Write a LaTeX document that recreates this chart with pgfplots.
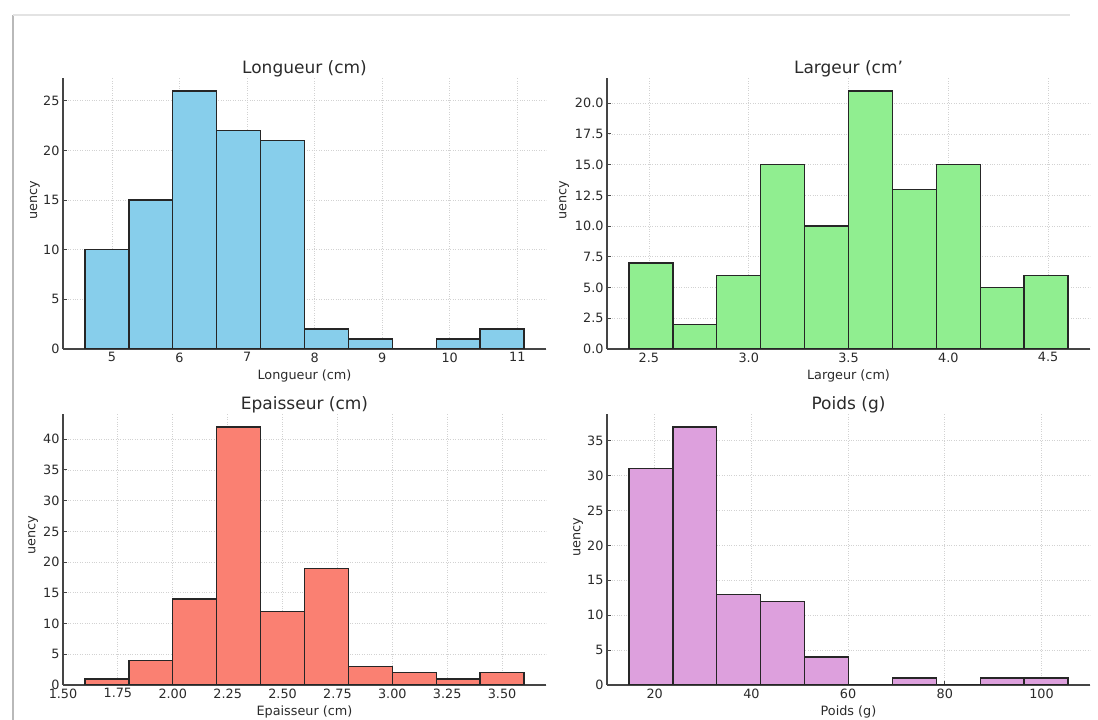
\documentclass[border=0pt]{standalone}
\usepackage{pgfplots}
\pgfplotsset{compat=1.18}
\usepackage{fontspec}
\setmainfont{DejaVu Sans}
\definecolor{skyblue}{HTML}{87CEEB}
\definecolor{lightgreen}{HTML}{90EE90}
\definecolor{salmon}{HTML}{FA8072}
\definecolor{plum}{HTML}{DDA0DD}
\definecolor{spine}{HTML}{454545}
\definecolor{txt}{HTML}{2A2A2A}
\pgfplotsset{
  hist/.style={
    scale only axis, width=483bp, height=271bp, anchor=south west,
    axis x line*=bottom, axis y line*=left,
    axis line style={spine, line width=1.4bp},
    tick align=inside, major tick length=3.5bp,
    tick style={spine, line width=0.9bp},
    grid=major, major grid style={dotted, gray!35, line width=0.8bp},
    ymin=0,
    /pgf/number format/assume math mode=true,
    tick label style={font=\fontsize{12.8bp}{14bp}\selectfont, text=txt},
    label style={font=\fontsize{12.8bp}{15bp}\selectfont, text=txt},
    title style={font=\fontsize{17bp}{20bp}\selectfont, text=txt, at={(axis description cs:0.5,1)}, anchor=center, yshift=3.5bp},
    xlabel style={at={(axis description cs:0.5,0)}, anchor=center, yshift=-26.5bp},
    ylabel style={anchor=center},
  },
}
\begin{document}
\begin{tikzpicture}[x=1bp,y=1bp]
\useasboundingbox (0,0) rectangle (1098,720);
\draw[gray!55, line width=2.5bp] (13,0) -- (13,705);
\draw[gray!22, line width=1.2bp] (13,705) -- (1070,705);

% Longueur
\begin{axis}[hist, at={(63bp,371bp)},
  xmin=4.275, xmax=11.425, ymax=27.3,
  xtick={5,6,7,8,9,10,11}, ytick={0,5,10,15,20,25},
  title={Longueur (cm)}, xlabel={Longueur (cm)}, ylabel={uency},
  ylabel style={at={(axis description cs:-0.058,0.55)}}]
\addplot[ybar interval, draw=black!85, line width=1.4bp, fill=skyblue] coordinates {
(4.6,10) (5.25,15) (5.9,26) (6.55,22) (7.2,21) (7.85,2) (8.5,1) (9.15,0) (9.8,1) (10.45,2) (11.1,2)};
\end{axis}

% Largeur
\begin{axis}[hist, at={(607bp,371bp)},
  xmin=2.29, xmax=4.71, ymax=22.05,
  xtick={2.5,3.0,3.5,4.0,4.5}, ytick={0,2.5,5,7.5,10,12.5,15,17.5,20},
  xticklabel style={/pgf/number format/.cd, fixed, fixed zerofill, precision=1},
  yticklabel style={/pgf/number format/.cd, fixed, fixed zerofill, precision=1},
  title={Largeur (cm'}, xlabel={Largeur (cm)}, ylabel={uency},
  ylabel style={at={(axis description cs:-0.089,0.55)}}]
\addplot[ybar interval, draw=black!85, line width=1.4bp, fill=lightgreen] coordinates {
(2.4,7) (2.62,2) (2.84,6) (3.06,15) (3.28,10) (3.5,21) (3.72,13) (3.94,15) (4.16,5) (4.38,6) (4.6,6)};
\end{axis}

% Epaisseur
\begin{axis}[hist, at={(63bp,35bp)},
  xmin=1.5, xmax=3.7, ymax=44.1,
  xtick={1.5,1.75,2.0,2.25,2.5,2.75,3.0,3.25,3.5}, ytick={0,5,10,15,20,25,30,35,40},
  xticklabel style={/pgf/number format/.cd, fixed, fixed zerofill, precision=2},
  title={Epaisseur (cm)}, xlabel={Epaisseur (cm)}, ylabel={uency},
  ylabel style={at={(axis description cs:-0.062,0.553)}}]
\addplot[ybar interval, draw=black!85, line width=1.4bp, fill=salmon] coordinates {
(1.6,1) (1.8,4) (2.0,14) (2.2,42) (2.4,12) (2.6,19) (2.8,3) (3.0,2) (3.2,1) (3.4,2) (3.6,2)};
\end{axis}

% Poids
\begin{axis}[hist, at={(607bp,35bp)},
  xmin=10.14, xmax=110.02, ymax=38.85,
  xtick={20,40,60,80,100}, ytick={0,5,10,15,20,25,30,35},
  title={Poids (g)}, xlabel={Poids (g)}, ylabel={uency},
  ylabel style={at={(axis description cs:-0.060,0.546)}}]
\addplot[ybar interval, draw=black!85, line width=1.4bp, fill=plum] coordinates {
(14.68,31) (23.76,37) (32.84,13) (41.92,12) (51.00,4) (60.08,0) (69.16,1) (78.24,0) (87.32,1) (96.40,1) (105.48,1)};
\end{axis}
\end{tikzpicture}
\end{document}
